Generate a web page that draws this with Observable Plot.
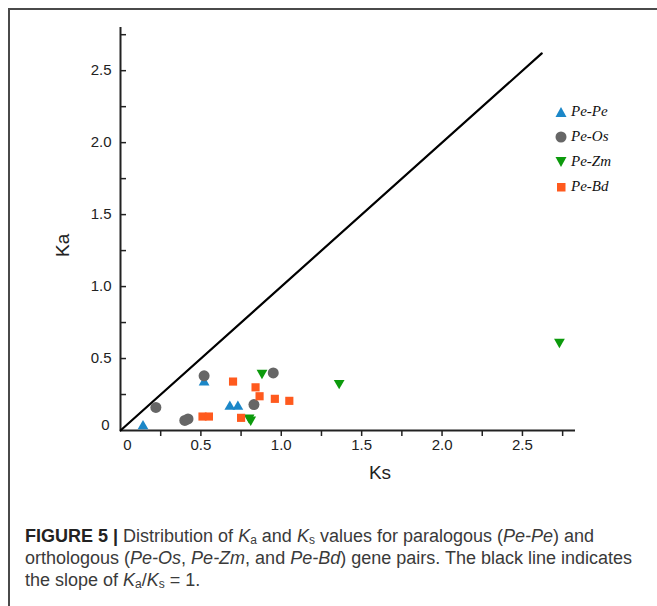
<!DOCTYPE html>
<html>
<head>
<meta charset="utf-8">
<script src="https://cdn.jsdelivr.net/npm/d3@7"></script>
<script src="https://cdn.jsdelivr.net/npm/@observablehq/plot@0.6"></script>
<style>
  html, body { margin: 0; padding: 0; background: #fff; }
  body { width: 657px; height: 606px; overflow: hidden; position: relative; font-family: "Liberation Sans", Arial, sans-serif; }
  #frame { position: absolute; left: 8px; top: 8px; right: 0; bottom: 0; border-left: 2px solid #4a4a4a; border-top: 2px solid #4a4a4a; }
  #chart { position: absolute; left: 10px; top: 10px; }
  #legend { position: absolute; left: 554px; top: 99px; font-family: "Liberation Serif", "Times New Roman", serif; font-style: italic; font-size: 15px; color: #111; }
  #legend .row { height: 25px; display: flex; align-items: center; }
  #legend svg { width: 14px; height: 14px; margin-right: 3px; }
  #caption { position: absolute; left: 25px; top: 525px; width: 632px; font-size: 18px; line-height: 22px; color: #3a3a3a; white-space: nowrap; }
  #caption b { color: #222; }
  #caption sub { font-size: 12px; vertical-align: -2px; line-height: 0; }
</style>
</head>
<body>
<div id="frame"></div>
<div id="chart"></div>
<div id="legend"></div>
<div id="caption"><b>FIGURE 5 |</b> Distribution of <i>K</i><sub>a</sub> and <i>K</i><sub>s</sub> values for paralogous (<i>Pe-Pe</i>) and<br>orthologous (<i>Pe-Os</i>, <i>Pe-Zm</i>, and <i>Pe-Bd</i>) gene pairs. The black line indicates<br>the slope of <i>K</i><sub>a</sub>/<i>K</i><sub>s</sub> = 1.</div>
<script>
// ---- data ----
const seriesNames = ["Pe-Pe", "Pe-Os", "Pe-Zm", "Pe-Bd"];
const pePeKs = [0.14, 0.52, 0.68, 0.73];
const pePeKa = [0.03, 0.335, 0.165, 0.165];
const peOsKs = [0.22, 0.40, 0.42, 0.52, 0.83, 0.95];
const peOsKa = [0.16, 0.07, 0.08, 0.38, 0.18, 0.40];
const peZmKs = [0.80, 0.81, 0.88, 1.36, 2.73];
const peZmKa = [0.09, 0.075, 0.40, 0.33, 0.615];
const peBdKs = [0.51, 0.55, 0.70, 0.75, 0.84, 0.865, 0.96, 1.05];
const peBdKa = [0.097, 0.097, 0.34, 0.088, 0.30, 0.238, 0.22, 0.206];
const diagKs = [0, 2.62];
const diagKa = [0, 2.62];
const xTicks = [0.25, 0.5, 0.75, 1.0, 1.25, 1.5, 1.75, 2.0, 2.25, 2.5, 2.75];
const xTickLabels = [0.5, 1.0, 1.5, 2.0, 2.5];
const yTicks = [0.25, 0.5, 0.75, 1.0, 1.25, 1.5, 1.75, 2.0, 2.25, 2.5, 2.75];
const yTickLabels = [0.5, 1.0, 1.5, 2.0, 2.5];

const toRows = (ks, ka) => ks.map((k, i) => ({ks: k, ka: ka[i]}));
const colors = {"Pe-Pe": "#1b87c8", "Pe-Os": "#666666", "Pe-Zm": "#0c9a0c", "Pe-Bd": "#ff5a1e"};

const W = 647, H = 490, ML = 110, MR = 82, MT = 17, MB = 70;
const fmt = d3.format(".1f");
const majorX = new Set(xTickLabels);
const FS = 15;

const chart = Plot.plot({
  width: W, height: H,
  marginLeft: ML, marginRight: MR, marginTop: MT, marginBottom: MB,
  x: {domain: [0, 2.83]},
  y: {domain: [0, 2.8]},
  style: {fontFamily: "'Liberation Sans', Arial, sans-serif", fontSize: "15px", color: "#222", background: "transparent"},
  marks: [
    Plot.axisX(xTicks, {tickSize: 6, tickPadding: 3, strokeWidth: 1.5, fontSize: FS, tickFormat: d => majorX.has(d) ? fmt(d) : "", label: null}),
    Plot.tickY(yTicks, {y: d => d, insetRight: (W - ML - MR) - 6, strokeWidth: 1.5}),
    Plot.axisY(yTickLabels, {tickSize: 0, tickPadding: 9, fontSize: FS, tickFormat: fmt, label: null}),
    Plot.text([0], {x: 0, y: 0, text: () => "0", dx: 7, dy: 15, fontSize: FS, textAnchor: "middle"}),
    Plot.text([0], {x: 0, y: 0, text: () => "0", dx: -11, dy: -5, fontSize: FS, textAnchor: "end"}),
    Plot.text(["Ks"], {frameAnchor: "bottom", dx: 32, dy: 48, fontSize: 19}),
    Plot.text(["Ka"], {frameAnchor: "left", dx: -58, dy: 28, fontSize: 19, rotate: -90}),
    Plot.ruleX([0], {strokeWidth: 2}),
    Plot.ruleY([0], {strokeWidth: 2}),
    Plot.line(toRows(diagKs, diagKa), {x: "ks", y: "ka", stroke: "#000", strokeWidth: 2.2}),
    Plot.dot(toRows(pePeKs, pePeKa), {x: "ks", y: "ka", symbol: "triangle", r: 4, fill: colors["Pe-Pe"]}),
    Plot.dot(toRows(peOsKs, peOsKa), {x: "ks", y: "ka", symbol: "circle", r: 5.5, fill: colors["Pe-Os"]}),
    Plot.dot(toRows(peZmKs, peZmKa), {x: "ks", y: "ka", symbol: "triangle", rotate: 180, r: 4, fill: colors["Pe-Zm"]}),
    Plot.dot(toRows(peBdKs, peBdKa), {x: "ks", y: "ka", symbol: "square", r: 4.6, fill: colors["Pe-Bd"]})
  ]
});
document.getElementById("chart").appendChild(chart);

// ---- legend ----
const legendShapes = {
  "Pe-Pe": '<path d="M7,2 L12.5,12 L1.5,12 Z"/>',
  "Pe-Os": '<circle cx="7" cy="7" r="5.5"/>',
  "Pe-Zm": '<path d="M1.5,2 L12.5,2 L7,12 Z"/>',
  "Pe-Bd": '<rect x="3" y="3" width="8.5" height="8.5"/>'
};
const legend = document.getElementById("legend");
seriesNames.forEach(name => {
  const row = document.createElement("div");
  row.className = "row";
  row.innerHTML = `<svg viewBox="0 0 14 14" fill="${colors[name]}">${legendShapes[name]}</svg><span>${name}</span>`;
  legend.appendChild(row);
});
</script>
</body>
</html>
